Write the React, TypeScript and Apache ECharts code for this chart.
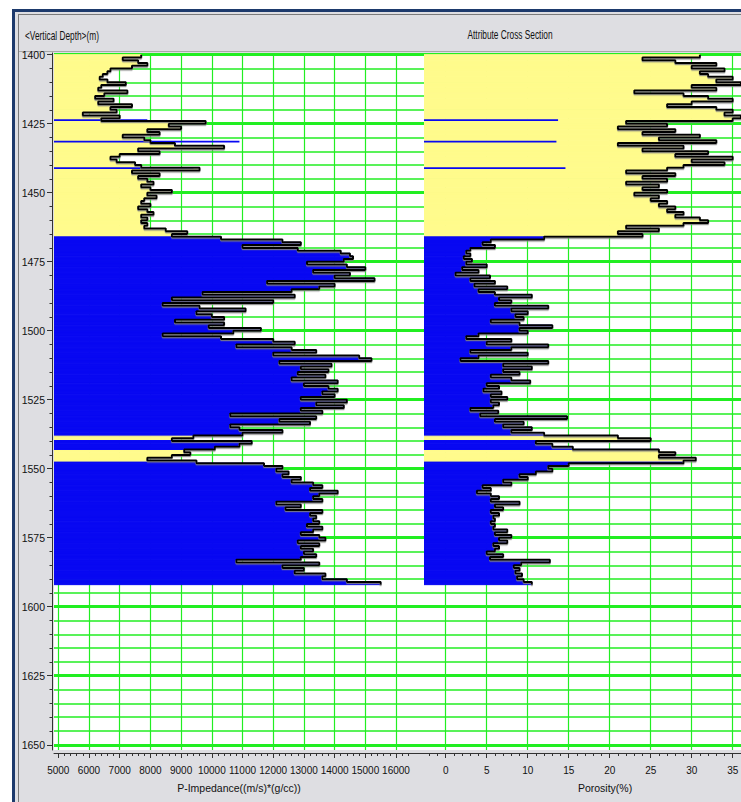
import React, { useEffect, useRef } from "react";
import * as echarts from "echarts";

// Log sampling: one value per metre, starting at the top depth.
const DEPTH_TOP = 1400;
const SAMPLE_STEP = 1;
const LOG_BOTTOM = 1592;

// P-Impedance ((m/s)*(g/cc)), 1400 m .. 1591 m
const pImpedance = [
  7700, 7100, 7600, 7900, 7400, 6700, 6600, 6450, 6350, 6600,
  7200, 6400, 6300, 7250, 6500, 6200, 6800, 6300, 7400, 6700,
  6900, 5800, 7000, 6400, 9800, 8600, 9000, 7900, 8300, 7100,
  7800, 8000, 8800, 10400, 7600, 8300, 7000, 6700, 6900, 7500,
  7700, 9600, 7400, 8300, 7600, 7900, 8100, 7700, 8000, 8700,
  7900, 8200, 7800, 7700, 8000, 7600, 7900, 8100, 7700, 7900,
  7700, 7900, 7800, 8500, 9200, 8700, 10300, 12300, 12900, 11000,
  12800, 14200, 14500, 14600, 14300, 13100, 14400, 15000, 13300, 14500,
  14000, 15300, 11800, 14000, 13500, 12600, 9700, 12700, 8700, 12000,
  8400, 9600, 11100, 9500, 10000, 10400, 8800, 10400, 9900, 11600,
  10700, 8400, 10300, 12000, 12700, 10800, 12600, 13400, 12000, 14800,
  15200, 12200, 13900, 12900, 13800, 12800, 13700, 12600, 14100, 13000,
  13800, 14100, 13600, 14000, 12900, 14400, 13400, 14300, 12900, 13600,
  10600, 13400, 12200, 13200, 10600, 10900, 12300, 11000, 9400, 8700,
  11300, 10900, 10100, 9100, 9300, 8700, 7900, 9500, 11700, 12300,
  12100, 12500, 12300, 12900, 12600, 13300, 13600, 13200, 14100, 13500,
  13300, 13600, 12100, 12900, 12400, 13600, 13200, 13400, 13300, 13500,
  13100, 13600, 13300, 12900, 13500, 13700, 12800, 13500, 12900, 13300,
  13000, 13400, 12900, 10800, 13500, 12300, 13000, 12700, 13700, 13600,
  14400, 15500,
];

// Porosity (%), 1400 m .. 1591 m
const porosity = [
  31, 24, 28, 33, 30, 34, 31, 32, 35, 33,
  36, 30, 33, 23, 29, 32, 35, 30, 27, 33,
  35, 34, 36, 35, 22, 27, 21, 28, 24, 31,
  26, 33, 21, 29, 24, 32, 28, 35, 30, 34,
  29, 27, 22, 28, 24, 27, 22, 26, 24, 27,
  23, 26, 25, 27, 26, 28, 27, 29, 28, 31,
  32, 29, 22, 26, 21, 24, 12, 5.5, 4.5, 6,
  3, 2.5, 3, 2.2, 3.2, 2.5, 5, 2, 4, 1.2,
  5.4, 3, 6, 3.5, 7.5, 4, 6, 10.5, 6.5, 8,
  6, 12.5, 8, 10, 8.5, 9.5, 5.5, 9, 13, 9,
  10, 4, 2.5, 8, 5, 12.5, 8, 3, 10, 4,
  1.8, 12.5, 7, 10.5, 7, 9, 5.5, 8, 10.3, 5,
  6.5, 4.6, 6.8, 5.5, 7.5, 5.5, 6.5, 5.8, 3, 6.4,
  4.2, 14.8, 6, 9.5, 7, 10.5, 8, 12, 21, 25,
  11, 13, 15.5, 26, 28, 26, 30.5, 29, 15, 12.5,
  13, 11, 9, 10, 7, 8, 4.5, 5.5, 3.8, 5.5,
  6.5, 5.5, 9, 6, 7, 5.5, 6.5, 5.8, 6, 5.5,
  6, 5.8, 7.5, 6, 8, 6.5, 7.5, 5.8, 6.5, 6,
  5, 7, 5.4, 12.7, 9.2, 8.3, 9, 8.5, 9.3, 8.7,
  9.5, 10.5,
];

// Lithology zones: top depth of each zone, 0 = shale (yellow), 1 = sand (blue)
const faciesTop = [1400, 1466, 1538.2, 1539.8, 1543.4, 1547.6];
const faciesCode = [0, 1, 0, 1, 0, 1];

// Thin sand streaks marked as horizons
const horizonDepth = [1423.7, 1431.5, 1441.1];
const horizonImp = [7900, 10900, 9400];
const horizonPor = [13.7, 13.5, 14.6];

// Tick values
const depthLabels = [1400, 1425, 1450, 1475, 1500, 1525, 1550, 1575, 1600, 1625, 1650];
const impLabels = [5000, 6000, 7000, 8000, 9000, 10000, 11000, 12000, 13000, 14000, 15000, 16000];
const porLabels = [0, 5, 10, 15, 20, 25, 30, 35];

const depthMinor: number[] = [];
for (let d = 1400; d <= 1650; d += 5) depthMinor.push(d);
const impMinor: number[] = [];
for (let v = 5000; v <= 16400; v += 200) impMinor.push(v);
const porMinor: number[] = [];
for (let v = -2; v <= 41; v += 1) porMinor.push(v);

// Axis extents
const DEPTH_MIN = 1399.4;
const DEPTH_MAX = 1651.9;
const IMP_MIN = 4860;
const IMP_MAX = 16912;
const POR_MIN = -2.65;
const POR_MAX = 41.5;

const YELLOW = "#fffb8c";
const BLUE = "#0808f2";
const GREEN = "#22ee22";
const AXIS = "#333333";
const FONT = '"Liberation Sans", Arial, sans-serif';

function fillSegments(values: number[]) {
  const segs: number[][] = [];
  values.forEach((v, i) => {
    const top = DEPTH_TOP + i * SAMPLE_STEP;
    const bot = top + SAMPLE_STEP;
    for (let k = 0; k < faciesTop.length; k++) {
      const fTop = faciesTop[k];
      const fBot = k + 1 < faciesTop.length ? faciesTop[k + 1] : LOG_BOTTOM;
      const a = Math.max(top, fTop);
      const b = Math.min(bot, fBot);
      if (b > a) segs.push([v, a, b, faciesCode[k]]);
    }
  });
  return segs;
}

function stepPoints(values: number[]) {
  const pts: number[][] = [];
  values.forEach((v, i) => {
    const t = DEPTH_TOP + i * SAMPLE_STEP;
    pts.push([v, t], [v, t + SAMPLE_STEP]);
  });
  return pts;
}

function fillRenderer(xMin: number) {
  return (params: any, api: any) => {
    const v = api.value(0);
    const a = api.value(1);
    const b = api.value(2);
    const code = api.value(3);
    const p0 = api.coord([xMin, a]);
    const p1 = api.coord([v, b]);
    const color = code ? BLUE : YELLOW;
    return {
      type: "rect",
      shape: { x: p0[0], y: p0[1], width: p1[0] - p0[0], height: p1[1] - p0[1] },
      style: { fill: color, stroke: color, lineWidth: 1 },
    };
  };
}

function horizonRenderer(xMin: number) {
  return (params: any, api: any) => {
    const v = api.value(0);
    const d = api.value(1);
    const p0 = api.coord([xMin, d - 0.3]);
    const p1 = api.coord([v, d + 0.3]);
    return {
      type: "rect",
      shape: { x: p0[0], y: p0[1], width: p1[0] - p0[0], height: p1[1] - p0[1] },
      style: { fill: BLUE },
    };
  };
}

const labelStyle = { fontFamily: FONT, fontSize: 10, color: "#111" };

function majorX(gridIndex: number, min: number, max: number, labels: number[], name: string) {
  return {
    type: "value",
    gridIndex,
    min,
    max,
    position: "bottom",
    offset: 3,
    name,
    nameLocation: "middle",
    nameGap: 29,
    nameTextStyle: { fontFamily: FONT, fontSize: 10.5, color: "#111" },
    axisLine: { show: true, lineStyle: { color: AXIS, width: 1 } },
    axisTick: { show: true, length: 5, customValues: labels, lineStyle: { color: AXIS } },
    axisLabel: { ...labelStyle, margin: 12, customValues: labels, formatter: (v: number) => String(v) },
    splitLine: { show: true, lineStyle: { color: GREEN, width: 1.2 } },
  };
}

function minorX(gridIndex: number, min: number, max: number, ticks: number[]) {
  return {
    type: "value",
    gridIndex,
    min,
    max,
    position: "bottom",
    offset: 3,
    axisLine: { show: false },
    axisTick: { show: true, length: 3, customValues: ticks, lineStyle: { color: AXIS } },
    axisLabel: { show: false },
    splitLine: { show: false },
  };
}

function depthAxis(gridIndex: number, ticks: number[], major: boolean, showAxis: boolean) {
  return {
    type: "value",
    gridIndex,
    inverse: true,
    min: DEPTH_MIN,
    max: DEPTH_MAX,
    position: "left",
    offset: 2,
    axisLine: { show: showAxis && major, lineStyle: { color: AXIS, width: 1 } },
    axisTick: { show: showAxis, length: major ? 5 : 2.5, customValues: ticks, lineStyle: { color: AXIS } },
    axisLabel: major && showAxis
      ? { ...labelStyle, fontSize: 10.5, margin: 7, customValues: ticks, formatter: (v: number) => String(v) }
      : { show: false },
    splitLine: { show: true, lineStyle: { color: GREEN, width: major ? 3 : 1.5 } },
  };
}

// Bold log trace with a grey drop edge under each step
const curveStyle = {
  color: "#000",
  width: 2,
  shadowColor: "rgba(128,128,128,0.85)",
  shadowOffsetX: 0,
  shadowOffsetY: 1.2,
  shadowBlur: 0.1,
};

function buildOption() {
  return {
    animation: false,
    backgroundColor: "#ffffff",
    grid: [
      { left: 54, top: 53, width: 370, height: 697, show: true, backgroundColor: "#ffffff", borderWidth: 0, outerBoundsMode: "none" },
      { left: 424, top: 53, width: 362, height: 697, show: true, backgroundColor: "#ffffff", borderWidth: 0, outerBoundsMode: "none" },
    ],
    xAxis: [
      majorX(0, IMP_MIN, IMP_MAX, impLabels, "P-Impedance((m/s)*(g/cc))"),
      minorX(0, IMP_MIN, IMP_MAX, impMinor),
      majorX(1, POR_MIN, POR_MAX, porLabels, "Porosity(%)"),
      minorX(1, POR_MIN, POR_MAX, porMinor),
    ],
    yAxis: [
      depthAxis(0, depthLabels, true, true),
      depthAxis(0, depthMinor, false, true),
      depthAxis(1, depthLabels, true, false),
      depthAxis(1, depthMinor, false, false),
    ],
    graphic: [
      { type: "rect", z: -10, silent: true, shape: { x: 12, y: 9, width: 800, height: 800 }, style: { fill: "#1d3a6c" } },
      { type: "rect", z: -10, silent: true, shape: { x: 15, y: 12, width: 800, height: 800 }, style: { fill: "#dedee2" } },
      { type: "line", z: -9, silent: true, shape: { x1: 18.5, y1: 14, x2: 18.5, y2: 802 }, style: { stroke: "#7a7a7a", lineWidth: 1 } },
      { type: "line", z: -9, silent: true, shape: { x1: 18, y1: 14.5, x2: 800, y2: 14.5 }, style: { stroke: "#7a7a7a", lineWidth: 1 } },
      { type: "line", z: -9, silent: true, shape: { x1: 19, y1: 51.5, x2: 800, y2: 51.5 }, style: { stroke: "#a8a8a8", lineWidth: 1 } },
      {
        type: "text", z: 5, x: 25, y: 35, scaleX: 0.64,
        style: { text: "<Vertical Depth>(m)", fontFamily: FONT, fontSize: 13, fill: "#111", verticalAlign: "middle", align: "left" },
      },
      {
        type: "text", z: 5, x: 510, y: 34, scaleX: 0.64,
        style: { text: "Attribute Cross Section", fontFamily: FONT, fontSize: 13, fill: "#111", verticalAlign: "middle", align: "center" },
      },
    ],
    series: [
      {
        name: "P-Impedance fill",
        type: "custom",
        xAxisIndex: 0,
        yAxisIndex: 0,
        clip: true,
        z: 2,
        renderItem: fillRenderer(IMP_MIN),
        data: fillSegments(pImpedance),
      },
      {
        name: "P-Impedance horizons",
        type: "custom",
        xAxisIndex: 0,
        yAxisIndex: 0,
        clip: true,
        z: 3,
        renderItem: horizonRenderer(IMP_MIN),
        data: horizonDepth.map((d, i) => [horizonImp[i], d]),
      },
      {
        name: "P-Impedance",
        type: "line",
        xAxisIndex: 0,
        yAxisIndex: 0,
        clip: true,
        z: 4,
        symbol: "none",
        silent: true,
        lineStyle: curveStyle,
        data: stepPoints(pImpedance),
      },
      {
        name: "Porosity fill",
        type: "custom",
        xAxisIndex: 2,
        yAxisIndex: 2,
        clip: true,
        z: 2,
        renderItem: fillRenderer(POR_MIN),
        data: fillSegments(porosity),
      },
      {
        name: "Porosity horizons",
        type: "custom",
        xAxisIndex: 2,
        yAxisIndex: 2,
        clip: true,
        z: 3,
        renderItem: horizonRenderer(POR_MIN),
        data: horizonDepth.map((d, i) => [horizonPor[i], d]),
      },
      {
        name: "Porosity",
        type: "line",
        xAxisIndex: 2,
        yAxisIndex: 2,
        clip: true,
        z: 4,
        symbol: "none",
        silent: true,
        lineStyle: curveStyle,
        data: stepPoints(porosity),
      },
    ],
  };
}

export default function App() {
  const ref = useRef<HTMLDivElement>(null);
  useEffect(() => {
    if (!ref.current) return;
    const chart = echarts.init(ref.current, null, { renderer: "svg" });
    chart.setOption(buildOption() as any);
    return () => chart.dispose();
  }, []);
  return (
    <div style={{ position: "fixed", left: 0, top: 0, width: 741, height: 802, overflow: "hidden", background: "#fff" }}>
      <div ref={ref} style={{ width: 790, height: 802 }} />
    </div>
  );
}
